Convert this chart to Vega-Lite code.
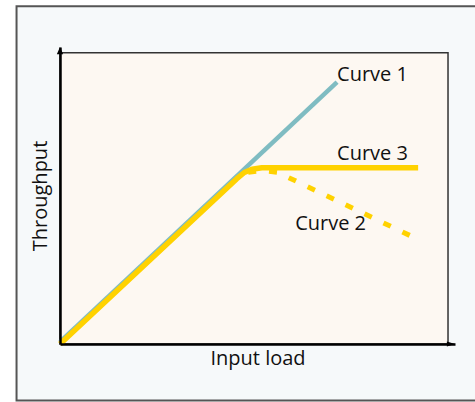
{
  "$schema": "https://vega.github.io/schema/vega-lite/v6.json",
  "autosize": {"type": "none"},
  "width": 395,
  "height": 297,
  "padding": {"left": 60, "top": 47, "right": 20, "bottom": 58},
  "background": "white",
  "config": {
    "view": {"stroke": null},
    "font": "Open Sans"
  },
  "datasets": {
    "one": [{}],
    "curves": [
      {"curve": "Curve 1", "load": 0, "throughput": 0.7},
      {"curve": "Curve 1", "load": 71.4, "throughput": 89.9},
      {"curve": "Curve 2", "load": 48.5, "throughput": 59.0},
      {"curve": "Curve 2", "load": 52, "throughput": 59.6},
      {"curve": "Curve 2", "load": 56, "throughput": 59.0},
      {"curve": "Curve 2", "load": 92.8, "throughput": 35.6},
      {"curve": "Curve 3", "load": 0, "throughput": 0},
      {"curve": "Curve 3", "load": 45.5, "throughput": 56.7},
      {"curve": "Curve 3", "load": 47.5, "throughput": 58.9},
      {"curve": "Curve 3", "load": 49.5, "throughput": 60.0},
      {"curve": "Curve 3", "load": 52, "throughput": 60.5},
      {"curve": "Curve 3", "load": 92.3, "throughput": 60.5}
    ],
    "labels": [
      {"label": "Curve 1", "load": 71.4, "throughput": 90.4},
      {"label": "Curve 3", "load": 71.4, "throughput": 63.2},
      {"label": "Curve 2", "load": 60.6, "throughput": 39.2}
    ]
  },
  "layer": [
    {
      "data": {"name": "one"},
      "mark": {"type": "rect", "fill": "#f6f9fa", "stroke": "#555555", "strokeWidth": 2, "clip": false},
      "encoding": {
        "x": {"datum": -11.2, "type": "quantitative", "scale": {"domain": [0, 101.8], "nice": false, "zero": false}},
        "x2": {"datum": 107.5},
        "y": {"datum": 116, "type": "quantitative", "scale": {"domain": [0, 102], "nice": false, "zero": false}},
        "y2": {"datum": -19.4}
      }
    },
    {
      "data": {"name": "one"},
      "mark": {"type": "rect", "fill": "#fdf8f2", "stroke": "#333333", "strokeWidth": 1.5},
      "encoding": {
        "x": {"datum": 0, "type": "quantitative", "scale": {"domain": [0, 101.8], "nice": false, "zero": false}},
        "x2": {"datum": 100},
        "y": {"datum": 0, "type": "quantitative", "scale": {"domain": [0, 102], "nice": false, "zero": false}},
        "y2": {"datum": 100}
      }
    },
    {
      "data": {"name": "curves"},
      "transform": [{"filter": "datum.curve === 'Curve 1'"}],
      "mark": {"type": "line", "color": "#7fbcc2", "strokeWidth": 4.5},
      "encoding": {
        "x": {"field": "load", "type": "quantitative", "scale": {"domain": [0, 101.8], "nice": false, "zero": false}},
        "y": {"field": "throughput", "type": "quantitative", "scale": {"domain": [0, 102], "nice": false, "zero": false}}
      }
    },
    {
      "data": {"name": "curves"},
      "transform": [{"filter": "datum.curve === 'Curve 2'"}],
      "mark": {"type": "line", "color": "#ffd200", "strokeWidth": 5, "strokeDash": [8, 13]},
      "encoding": {
        "x": {"field": "load", "type": "quantitative", "scale": {"domain": [0, 101.8], "nice": false, "zero": false}},
        "y": {"field": "throughput", "type": "quantitative", "scale": {"domain": [0, 102], "nice": false, "zero": false}}
      }
    },
    {
      "data": {"name": "curves"},
      "transform": [{"filter": "datum.curve === 'Curve 3'"}],
      "mark": {"type": "line", "color": "#ffd200", "strokeWidth": 5.5, "strokeJoin": "round"},
      "encoding": {
        "x": {"field": "load", "type": "quantitative", "scale": {"domain": [0, 101.8], "nice": false, "zero": false},
              "axis": {"title": "Input load", "labels": false, "ticks": false, "grid": false, "domainColor": "black", "domainWidth": 2.5, "titleFont": "Open Sans", "titleFontSize": 20, "titleFontWeight": "normal", "titleColor": "#111111", "titlePadding": 4, "zindex": 2}},
        "y": {"field": "throughput", "type": "quantitative", "scale": {"domain": [0, 102], "nice": false, "zero": false},
              "axis": {"title": "Throughput", "labels": false, "ticks": false, "grid": false, "domainColor": "black", "domainWidth": 2.5, "titleFont": "Open Sans", "titleFontSize": 20, "titleFontWeight": "normal", "titleColor": "#111111", "titlePadding": 10, "zindex": 2}}
      }
    },
    {
      "data": {"name": "one"},
      "mark": {"type": "point", "shape": "M0,0L-0.7,1.6L0.7,1.6Z", "size": 81, "filled": true, "color": "black", "opacity": 1, "clip": false},
      "encoding": {
        "x": {"datum": 0, "type": "quantitative", "scale": {"domain": [0, 101.8], "nice": false, "zero": false}},
        "y": {"datum": 102, "type": "quantitative", "scale": {"domain": [0, 102], "nice": false, "zero": false}}
      }
    },
    {
      "data": {"name": "one"},
      "mark": {"type": "point", "shape": "M0,0L-1.8,-0.55L-1.8,0.55Z", "size": 81, "filled": true, "color": "black", "opacity": 1, "clip": false},
      "encoding": {
        "x": {"datum": 101.8, "type": "quantitative", "scale": {"domain": [0, 101.8], "nice": false, "zero": false}},
        "y": {"datum": 0, "type": "quantitative", "scale": {"domain": [0, 102], "nice": false, "zero": false}}
      }
    },
    {
      "data": {"name": "labels"},
      "mark": {"type": "text", "align": "left", "baseline": "alphabetic", "font": "Open Sans", "fontSize": 20, "color": "#111111"},
      "encoding": {
        "x": {"field": "load", "type": "quantitative", "scale": {"domain": [0, 101.8], "nice": false, "zero": false}},
        "y": {"field": "throughput", "type": "quantitative", "scale": {"domain": [0, 102], "nice": false, "zero": false}},
        "text": {"field": "label"}
      }
    }
  ]
}
